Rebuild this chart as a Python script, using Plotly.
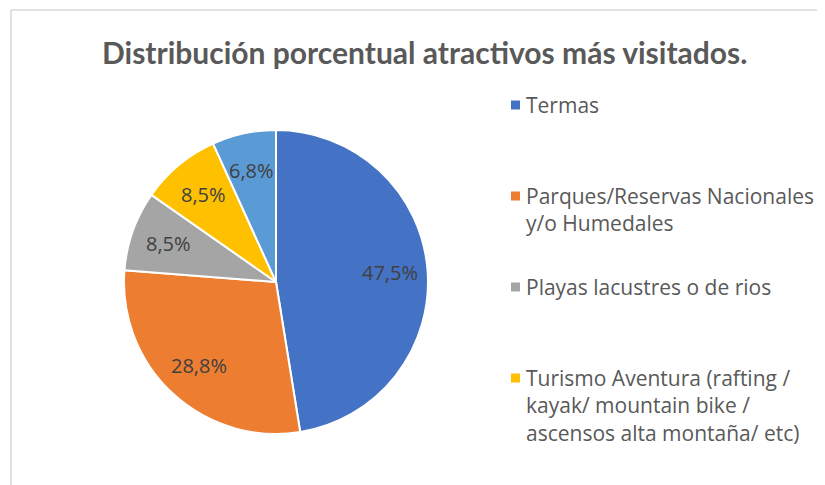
import math
import plotly.graph_objects as go

categories = ["Termas", "Parques/Reservas Nacionales<br>y/o Humedales", "Playas lacustres o de rios",
              "Turismo Aventura (rafting /<br>kayak/ mountain bike /<br>ascensos alta montaña/ etc)", "Otros"]
values = [47.5, 28.8, 8.5, 8.5, 6.8]
colors = ["#4472C4", "#ED7D31", "#A5A5A5", "#FFC000", "#5B9BD5"]
legend_count = 4  # only first four entries visible in reference legend

# the page body adds an 8px margin; lay out in reference-pixel coordinates
OFF = 8
W, H = 825 - OFF, 485 - OFF


def px(x):
    return (x - OFF) / W


def py(y):
    return 1 - (y - OFF) / H


PIE_L, PIE_R, PIE_T, PIE_B = 124, 428, 130, 434
cx, cy, rad = (PIE_L + PIE_R) / 2, (PIE_T + PIE_B) / 2, (PIE_R - PIE_L) / 2

fig = go.Figure(go.Pie(
    labels=categories, values=values, sort=False, direction="clockwise", rotation=0,
    marker=dict(colors=colors, line=dict(color="white", width=2)),
    textinfo="none",
    showlegend=False, hoverinfo="label+value",
    domain=dict(x=[px(PIE_L), px(PIE_R)], y=[py(PIE_B), py(PIE_T)]),
))

shapes = [
    dict(type="line", xref="paper", yref="paper", x0=px(11), x1=px(11), y0=0, y1=py(10),
         line=dict(color="#d9d9d9", width=1.5)),
    dict(type="line", xref="paper", yref="paper", x0=px(11), x1=1, y0=py(10), y1=py(10),
         line=dict(color="#d9d9d9", width=1.5)),
]
annotations = [dict(text="<b>Distribución porcentual atractivos más visitados.</b>", xref="paper", yref="paper",
                    x=px(424), y=py(52), xanchor="center", yanchor="middle", showarrow=False,
                    font=dict(family="Lato", size=30, color="#595959"))]

# data labels placed along each slice's bisector (Excel-like), derived from the values
total = sum(values)
cum = 0.0
for v in values:
    mid = (cum + v / 2) / total * 2 * math.pi
    cum += v
    lx = cx + 0.75 * rad * math.sin(mid)
    ly = cy - 0.75 * rad * math.cos(mid)
    annotations.append(dict(text=f"{v:.1f}%".replace(".", ","), xref="paper", yref="paper",
                            x=px(lx), y=py(ly), xanchor="center", yanchor="middle", showarrow=False,
                            font=dict(family="Open Sans", size=20, color="#404040")))

slot_top = 105
slot_step = 91
for i in range(legend_count):
    yc = slot_top + i * slot_step
    shapes.append(dict(type="rect", xref="paper", yref="paper",
                       x0=px(511), x1=px(520), y0=py(yc + 4.5), y1=py(yc - 4.5),
                       fillcolor=colors[i], line=dict(width=0)))
    annotations.append(dict(text=categories[i], xref="paper", yref="paper", x=px(524), y=py(yc - 16),
                            xanchor="left", yanchor="top", align="left", showarrow=False,
                            font=dict(family="Open Sans", size=21, color="#595959")))

fig.update_layout(width=W, height=H, margin=dict(l=0, r=0, t=0, b=0), paper_bgcolor="white",
                  separators=",.", shapes=shapes, annotations=annotations)
fig.write_html("out.html")
